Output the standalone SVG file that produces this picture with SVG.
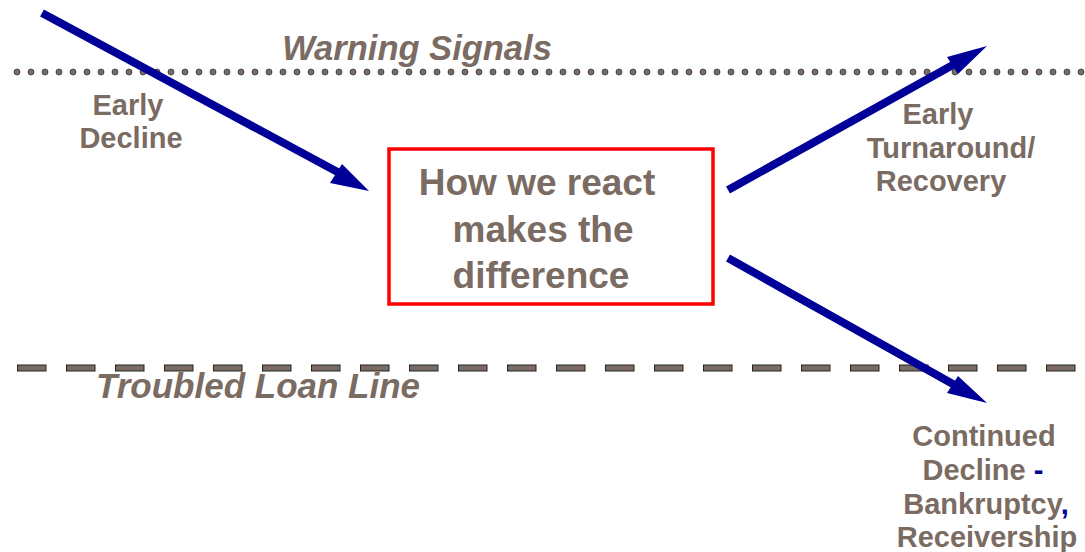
<svg xmlns="http://www.w3.org/2000/svg" width="1085" height="552" viewBox="0 0 1085 552">
  <style>
    .lbl { font-family: "Liberation Sans", Arial, sans-serif; font-weight: bold; fill: #7a6b63; text-anchor: middle; font-size: 29px; }
    .ttl { font-family: "Liberation Sans", Arial, sans-serif; font-weight: bold; font-style: italic; fill: #7a6b63; text-anchor: middle; }
    .big { font-size: 37px; }
    .arrow { stroke: #000099; stroke-width: 8; fill: none; }
    .head { fill: #000099; }
    .navy { fill: #000099; }
  </style>
  <defs>
    <pattern id="dots" x="10" y="0" width="14" height="552" patternUnits="userSpaceOnUse">
      <circle cx="7" cy="72" r="3" fill="#7a6b63" stroke="#333" stroke-width="0.8"/>
    </pattern>
    <pattern id="dashes" x="17" y="0" width="49" height="552" patternUnits="userSpaceOnUse">
      <rect x="0.5" y="365" width="28.5" height="6" fill="#7a6b63" stroke="#222" stroke-width="1"/>
    </pattern>
  </defs>
  <rect width="1085" height="552" fill="#ffffff"/>

  <!-- threshold lines -->
  <g id="warning-line">
    <rect x="10" y="66" width="1075" height="12" fill="url(#dots)"/>
    <text class="ttl" font-size="34.5" x="417" y="60">Warning Signals</text>
  </g>
  <g id="troubled-line">
    <rect x="17" y="362" width="1068" height="12" fill="url(#dashes)"/>
    <text class="ttl" font-size="35" x="258" y="398">Troubled Loan Line</text>
  </g>

  <!-- connectors -->
  <g id="connectors">
    <line class="arrow" x1="42" y1="13" x2="345" y2="176"/>
    <polygon class="head" points="369,191 330,183 342,164"/>
    <line class="arrow" x1="728" y1="190" x2="960" y2="61"/>
    <polygon class="head" points="987,46 947,57 958,74"/>
    <line class="arrow" x1="728" y1="258" x2="960" y2="388"/>
    <polygon class="head" points="987,403 947,393 958,376"/>
  </g>

  <g id="early-decline">
    <text class="lbl" x="128" y="115">Early</text>
    <text class="lbl" x="131" y="148">Decline</text>
  </g>

  <g id="reaction-box">
    <rect x="389" y="149" width="324" height="155" fill="none" stroke="#ff0000" stroke-width="3.5"/>
    <text class="lbl big" x="537" y="195">How we react</text>
    <text class="lbl big" x="543" y="242">makes the</text>
    <text class="lbl big" x="541" y="288">difference</text>
  </g>

  <g id="recovery">
    <text class="lbl" x="938" y="124">Early</text>
    <text class="lbl" x="951" y="158">Turnaround/</text>
    <text class="lbl" x="941" y="191">Recovery</text>
  </g>

  <g id="continued-decline">
    <text class="lbl" x="984" y="446">Continued</text>
    <text class="lbl" x="983" y="480">Decline <tspan class="navy">-</tspan></text>
    <text class="lbl" x="986" y="514">Bankruptcy<tspan class="navy">,</tspan></text>
    <text class="lbl" x="987" y="547">Receivership</text>
  </g>
</svg>
